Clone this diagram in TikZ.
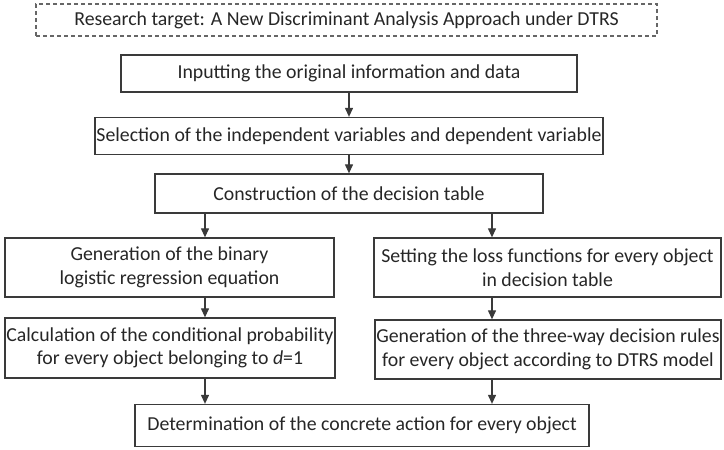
\documentclass[tikz,border=0pt]{standalone}
\usepackage{fontspec}
\setmainfont{Carlito}
\usetikzlibrary{arrows.meta}
\definecolor{txt}{HTML}{262626}
\definecolor{edge}{HTML}{3A3A3A}
\tikzset{
  box/.style={draw=edge, line width=1.3pt, inner sep=0pt, align=center, text=txt,
    font=\fontsize{19.8}{23.5}\selectfont},
  dbox/.style={box, draw=gray!80!black, dash pattern=on 4pt off 3pt, line width=1.3pt},
  arr/.style={draw=edge, line width=1.2pt, -{Triangle[length=9pt,width=8pt]}}
}
\begin{document}
\begin{tikzpicture}[x=1pt,y=-1pt]
\useasboundingbox (0,0) rectangle (724,450);
\node[dbox, minimum width=621pt, minimum height=32pt] (t) at (346.5,20) {Research target: A New Discriminant Analysis Approach under DTRS};
\node[box, minimum width=456pt, minimum height=37pt] (n1) at (349,73.5) {Inputting the original information and data};
\node[box, minimum width=508pt, minimum height=37pt] (n2) at (349,136) {Selection of the independent variables and dependent variable};
\node[box, minimum width=388pt, minimum height=39pt] (n3) at (349,193.5) {Construction of the decision table};
\node[box, minimum width=329pt, minimum height=59pt] (l1) at (169.5,267.5) {Generation of the binary\\logistic regression equation};
\node[box, minimum width=347pt, minimum height=59pt] (r1) at (547.5,267.5) {Setting the loss functions for every object\\in decision table};
\node[box, minimum width=330pt, minimum height=60pt] (l2) at (170,348) {Calculation of the conditional probability\\for every object belonging to \textit{d}=1};
\node[box, minimum width=346pt, minimum height=59pt] (r2) at (548,349.5) {Generation of the three-way decision rules\\for every object according to DTRS model};
\node[box, minimum width=454pt, minimum height=42pt] (n4) at (362,425.5) {Determination of the concrete action for every object};
\coordinate (ax) at (205,0);
\coordinate (bx) at (492,0);
\draw[arr] (n1.south) -- (n2.north -| n1.south);
\draw[arr] (n2.south -| n1.south) -- (n3.north -| n1.south);
\draw[arr] (n3.south -| ax) -- (l1.north -| ax);
\draw[arr] (n3.south -| bx) -- (r1.north -| bx);
\draw[arr] (l1.south -| ax) -- (l2.north -| ax);
\draw[arr] (r1.south -| bx) -- (r2.north -| bx);
\draw[arr] (l2.south -| ax) -- (n4.north -| ax);
\draw[arr] (r2.south -| bx) -- (n4.north -| bx);
\end{tikzpicture}
\end{document}
